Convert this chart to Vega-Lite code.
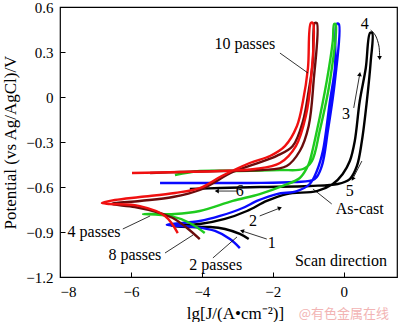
{
 "$schema": "https://vega.github.io/schema/vega-lite/v6.json",
 "width": 337, "height": 270,
 "autosize": "none",
 "padding": {"left": 60, "top": 7, "right": 3, "bottom": 45},
 "background": "white",
 "config": {"view": {"stroke": "black", "strokeWidth": 1.2}, "font": "Liberation Serif"},
 "datasets": {
  "curves": [
   {"s":"As-cast","o":1,"x":-2.68,"y":-0.947},{"s":"As-cast","o":2,"x":-2.93,"y":-0.913},{"s":"As-cast","o":3,"x":-3.35,"y":-0.88},{"s":"As-cast","o":4,"x":-3.77,"y":-0.867},{"s":"As-cast","o":5,"x":-4.34,"y":-0.867},{"s":"As-cast","o":6,"x":-4.85,"y":-0.86},{"s":"As-cast","o":7,"x":-4.06,"y":-0.847},{"s":"As-cast","o":8,"x":-3.35,"y":-0.813},{"s":"As-cast","o":9,"x":-2.73,"y":-0.76},{"s":"As-cast","o":10,"x":-2.17,"y":-0.693},{"s":"As-cast","o":11,"x":-1.61,"y":-0.647},{"s":"As-cast","o":12,"x":-0.76,"y":-0.627},{"s":"As-cast","o":13,"x":-0.31,"y":-0.58},{"s":"As-cast","o":14,"x":-0.03,"y":-0.513},{"s":"As-cast","o":15,"x":0.17,"y":-0.427},{"s":"As-cast","o":16,"x":0.31,"y":-0.293},{"s":"As-cast","o":17,"x":0.45,"y":-0.027},{"s":"As-cast","o":18,"x":0.62,"y":0.193},{"s":"As-cast","o":19,"x":0.74,"y":0.427},{"s":"As-cast","o":20,"x":0.8,"y":0.427},{"s":"As-cast","o":21,"x":0.76,"y":0.24},{"s":"As-cast","o":22,"x":0.65,"y":-0.027},{"s":"As-cast","o":23,"x":0.51,"y":-0.293},{"s":"As-cast","o":24,"x":0.37,"y":-0.46},{"s":"As-cast","o":25,"x":0.17,"y":-0.547},{"s":"As-cast","o":26,"x":-0.17,"y":-0.58},{"s":"As-cast","o":27,"x":-0.96,"y":-0.593},{"s":"As-cast","o":28,"x":-2.37,"y":-0.6},{"s":"As-cast","o":29,"x":-3.49,"y":-0.607},{"s":"As-cast","o":30,"x":-4.34,"y":-0.613},
   {"s":"2 passes","o":1,"x":-2.93,"y":-1.007},{"s":"2 passes","o":2,"x":-3.21,"y":-0.947},{"s":"2 passes","o":3,"x":-3.63,"y":-0.893},{"s":"2 passes","o":4,"x":-4.2,"y":-0.867},{"s":"2 passes","o":5,"x":-4.99,"y":-0.853},{"s":"2 passes","o":6,"x":-4.06,"y":-0.827},{"s":"2 passes","o":7,"x":-3.49,"y":-0.793},{"s":"2 passes","o":8,"x":-2.85,"y":-0.74},{"s":"2 passes","o":9,"x":-2.45,"y":-0.693},{"s":"2 passes","o":10,"x":-1.89,"y":-0.647},{"s":"2 passes","o":11,"x":-1.32,"y":-0.627},{"s":"2 passes","o":12,"x":-0.96,"y":-0.58},{"s":"2 passes","o":13,"x":-0.76,"y":-0.493},{"s":"2 passes","o":14,"x":-0.59,"y":-0.36},{"s":"2 passes","o":15,"x":-0.39,"y":-0.027},{"s":"2 passes","o":16,"x":-0.25,"y":0.193},{"s":"2 passes","o":17,"x":-0.2,"y":0.487},{"s":"2 passes","o":18,"x":-0.14,"y":0.487},{"s":"2 passes","o":19,"x":-0.25,"y":0.107},{"s":"2 passes","o":20,"x":-0.45,"y":-0.227},{"s":"2 passes","o":21,"x":-0.62,"y":-0.46},{"s":"2 passes","o":22,"x":-0.82,"y":-0.547},{"s":"2 passes","o":23,"x":-1.38,"y":-0.567},{"s":"2 passes","o":24,"x":-2.65,"y":-0.573},{"s":"2 passes","o":25,"x":-4.06,"y":-0.573},{"s":"2 passes","o":26,"x":-5.18,"y":-0.573},
   {"s":"4 passes","o":1,"x":-3.92,"y":-0.907},{"s":"4 passes","o":2,"x":-4.34,"y":-0.84},{"s":"4 passes","o":3,"x":-4.9,"y":-0.793},{"s":"4 passes","o":4,"x":-5.66,"y":-0.78},{"s":"4 passes","o":5,"x":-4.76,"y":-0.78},{"s":"4 passes","o":6,"x":-4.06,"y":-0.76},{"s":"4 passes","o":7,"x":-3.13,"y":-0.693},{"s":"4 passes","o":8,"x":-2.37,"y":-0.647},{"s":"4 passes","o":9,"x":-1.72,"y":-0.593},{"s":"4 passes","o":10,"x":-1.24,"y":-0.54},{"s":"4 passes","o":11,"x":-1.04,"y":-0.473},{"s":"4 passes","o":12,"x":-0.96,"y":-0.427},{"s":"4 passes","o":13,"x":-0.76,"y":-0.227},{"s":"4 passes","o":14,"x":-0.48,"y":0.107},{"s":"4 passes","o":15,"x":-0.31,"y":0.373},{"s":"4 passes","o":16,"x":-0.27,"y":0.487},{"s":"4 passes","o":17,"x":-0.23,"y":0.487},{"s":"4 passes","o":18,"x":-0.39,"y":0.107},{"s":"4 passes","o":19,"x":-0.68,"y":-0.227},{"s":"4 passes","o":20,"x":-0.9,"y":-0.427},{"s":"4 passes","o":21,"x":-1.15,"y":-0.48},{"s":"4 passes","o":22,"x":-1.8,"y":-0.487},{"s":"4 passes","o":23,"x":-2.93,"y":-0.493},{"s":"4 passes","o":24,"x":-4.06,"y":-0.493},{"s":"4 passes","o":25,"x":-4.76,"y":-0.52},
   {"s":"8 passes","o":1,"x":-4.06,"y":-0.947},{"s":"8 passes","o":2,"x":-4.42,"y":-0.873},{"s":"8 passes","o":3,"x":-4.82,"y":-0.807},{"s":"8 passes","o":4,"x":-5.27,"y":-0.767},{"s":"8 passes","o":5,"x":-5.89,"y":-0.733},{"s":"8 passes","o":6,"x":-6.54,"y":-0.713},{"s":"8 passes","o":7,"x":-5.75,"y":-0.693},{"s":"8 passes","o":8,"x":-4.82,"y":-0.667},{"s":"8 passes","o":9,"x":-4.06,"y":-0.62},{"s":"8 passes","o":10,"x":-3.13,"y":-0.5},{"s":"8 passes","o":11,"x":-2.51,"y":-0.447},{"s":"8 passes","o":12,"x":-1.89,"y":-0.393},{"s":"8 passes","o":13,"x":-1.44,"y":-0.327},{"s":"8 passes","o":14,"x":-1.15,"y":-0.16},{"s":"8 passes","o":15,"x":-0.99,"y":0.04},{"s":"8 passes","o":16,"x":-0.87,"y":0.24},{"s":"8 passes","o":17,"x":-0.82,"y":0.493},{"s":"8 passes","o":18,"x":-0.76,"y":0.493},{"s":"8 passes","o":19,"x":-0.85,"y":0.107},{"s":"8 passes","o":20,"x":-0.99,"y":-0.193},{"s":"8 passes","o":21,"x":-1.24,"y":-0.36},{"s":"8 passes","o":22,"x":-1.61,"y":-0.46},{"s":"8 passes","o":23,"x":-2.31,"y":-0.487},{"s":"8 passes","o":24,"x":-3.49,"y":-0.493},{"s":"8 passes","o":25,"x":-4.62,"y":-0.5},{"s":"8 passes","o":26,"x":-5.46,"y":-0.507},
   {"s":"10 passes","o":1,"x":-4.68,"y":-0.907},{"s":"10 passes","o":2,"x":-5.04,"y":-0.793},{"s":"10 passes","o":3,"x":-5.75,"y":-0.727},{"s":"10 passes","o":4,"x":-6.59,"y":-0.713},{"s":"10 passes","o":5,"x":-6.82,"y":-0.707},{"s":"10 passes","o":6,"x":-6.45,"y":-0.687},{"s":"10 passes","o":7,"x":-5.75,"y":-0.667},{"s":"10 passes","o":8,"x":-4.76,"y":-0.64},{"s":"10 passes","o":9,"x":-4.06,"y":-0.607},{"s":"10 passes","o":10,"x":-3.44,"y":-0.527},{"s":"10 passes","o":11,"x":-2.65,"y":-0.44},{"s":"10 passes","o":12,"x":-2.08,"y":-0.393},{"s":"10 passes","o":13,"x":-1.66,"y":-0.327},{"s":"10 passes","o":14,"x":-1.32,"y":-0.193},{"s":"10 passes","o":15,"x":-1.15,"y":-0.027},{"s":"10 passes","o":16,"x":-1.01,"y":0.193},{"s":"10 passes","o":17,"x":-0.93,"y":0.493},{"s":"10 passes","o":18,"x":-0.87,"y":0.493},{"s":"10 passes","o":19,"x":-0.93,"y":0.107},{"s":"10 passes","o":20,"x":-1.07,"y":-0.127},{"s":"10 passes","o":21,"x":-1.35,"y":-0.327},{"s":"10 passes","o":22,"x":-1.8,"y":-0.44},{"s":"10 passes","o":23,"x":-2.51,"y":-0.48},{"s":"10 passes","o":24,"x":-3.49,"y":-0.493},{"s":"10 passes","o":25,"x":-4.62,"y":-0.5},{"s":"10 passes","o":26,"x":-5.97,"y":-0.507}
  ],
  "rules": [
   {"x":-1.8,"y":0.293,"x2":-1.01,"y2":0.16},
   {"x":-6.23,"y":-0.88,"x2":-5.46,"y2":-0.793},
   {"x":-5.04,"y":-1.04,"x2":-4.25,"y2":-0.92},
   {"x":-3.69,"y":-1.073,"x2":-3.01,"y2":-0.933},
   {"x":-0.34,"y":-0.713,"x2":-0.87,"y2":-0.613},
   {"x":-2.17,"y":-0.947,"x2":-2.87,"y2":-0.893},
   {"x":-2.37,"y":-0.793,"x2":-1.8,"y2":-0.74},
   {"x":0.28,"y":-0.073,"x2":0.45,"y2":0.153},
   {"x":0.51,"y":-0.427,"x2":0.25,"y2":-0.547},
   {"x":-3.01,"y":-0.627,"x2":-3.58,"y2":-0.627}
  ],
  "curve4": [
   {"o":1,"x":0.76,"y":0.447},{"o":2,"x":0.9,"y":0.407},{"o":3,"x":0.99,"y":0.34},{"o":4,"x":1.01,"y":0.27}
  ],
  "heads": [
   {"x":-2.87,"y":-0.893,"a":288},
   {"x":-1.8,"y":-0.74,"a":68},
   {"x":0.45,"y":0.153,"a":10},
   {"x":1.01,"y":0.26,"a":178},
   {"x":0.25,"y":-0.547,"a":207},
   {"x":-3.58,"y":-0.627,"a":270}
  ],
  "labels": [
   {"t":"10 passes","x":-2.79,"y":0.353},
   {"t":"4 passes","x":-7.04,"y":-0.9},
   {"t":"8 passes","x":-5.89,"y":-1.053},
   {"t":"2 passes","x":-3.61,"y":-1.12},
   {"t":"As-cast","x":0.45,"y":-0.747},
   {"t":"Scan direction","x":-0.08,"y":-1.093},
   {"t":"1","x":-2.03,"y":-0.973},
   {"t":"2","x":-2.56,"y":-0.827},
   {"t":"3","x":0.06,"y":-0.113},
   {"t":"4","x":0.59,"y":0.487},
   {"t":"5","x":0.17,"y":-0.627},
   {"t":"6","x":-2.93,"y":-0.627}
  ],
  "wm": [{"t":"@有色金属在线","x":0.0,"y":-1.447}]
 },
 "layer": [
  {
   "data": {"name": "curves"},
   "mark": {"type": "line", "strokeWidth": 2.4, "strokeJoin": "round", "interpolate": "catmull-rom"},
   "encoding": {
    "x": {"field": "x", "type": "quantitative",
     "scale": {"domain": [-8, 1.5], "nice": false, "zero": false},
     "axis": {"values": [-8, -6, -4, -2, 0], "title": "lg[J/(A•cm⁻²)]", "grid": false, "domain": false,
      "tickSize": -5, "tickColor": "black", "labelPadding": 12, "labelFontSize": 15, "labelColor": "black",
      "labelFont": "Liberation Serif", "titleFont": "Liberation Serif", "titleFontSize": 17, "titleFontWeight": "normal",
      "titleColor": "black", "titlePadding": 6, "titleX": 175}},
    "y": {"field": "y", "type": "quantitative",
     "scale": {"domain": [-1.2, 0.6], "nice": false, "zero": false},
     "axis": {"values": [-1.2, -0.9, -0.6, -0.3, 0, 0.3, 0.6], "format": ".1~f", "title": "Potential (vs Ag/AgCl)/V",
      "grid": false, "domain": false, "tickSize": -5, "tickColor": "black", "labelPadding": 12, "labelFontSize": 15,
      "labelColor": "black", "labelFont": "Liberation Serif", "titleFont": "Liberation Serif", "titleFontSize": 17,
      "titleFontWeight": "normal", "titleColor": "black", "titlePadding": 6}},
    "color": {"field": "s", "type": "nominal", "legend": null,
     "scale": {"domain": ["As-cast", "2 passes", "4 passes", "8 passes", "10 passes"],
      "range": ["#000000", "#0a0aff", "#1ecb1e", "#6a0c0c", "#f01010"]}},
    "order": {"field": "o", "type": "quantitative"}
   }
  },
  {
   "data": {"name": "rules"},
   "mark": {"type": "rule", "color": "black", "strokeWidth": 0.8},
   "encoding": {"x": {"field": "x", "type": "quantitative"}, "y": {"field": "y", "type": "quantitative"},
    "x2": {"field": "x2"}, "y2": {"field": "y2"}}
  },
  {
   "data": {"name": "curve4"},
   "mark": {"type": "line", "color": "black", "strokeWidth": 0.9, "interpolate": "cardinal"},
   "encoding": {"x": {"field": "x", "type": "quantitative"}, "y": {"field": "y", "type": "quantitative"},
    "order": {"field": "o", "type": "quantitative"}}
  },
  {
   "data": {"name": "heads"},
   "mark": {"type": "point", "shape": "triangle-up", "filled": true, "color": "black", "size": 22, "opacity": 1},
   "encoding": {"x": {"field": "x", "type": "quantitative"}, "y": {"field": "y", "type": "quantitative"},
    "angle": {"field": "a", "type": "quantitative", "scale": null}}
  },
  {
   "data": {"name": "labels"},
   "mark": {"type": "text", "font": "Liberation Serif", "fontSize": 16, "color": "black", "align": "center", "baseline": "middle"},
   "encoding": {"x": {"field": "x", "type": "quantitative"}, "y": {"field": "y", "type": "quantitative"},
    "text": {"field": "t"}}
  },
  {
   "data": {"name": "wm"},
   "mark": {"type": "text", "font": "Noto Sans CJK SC", "fontSize": 13, "color": "#f2b4b4", "align": "center", "baseline": "middle"},
   "encoding": {"x": {"field": "x", "type": "quantitative"}, "y": {"field": "y", "type": "quantitative"},
    "text": {"field": "t"}}
  }
 ]
}
